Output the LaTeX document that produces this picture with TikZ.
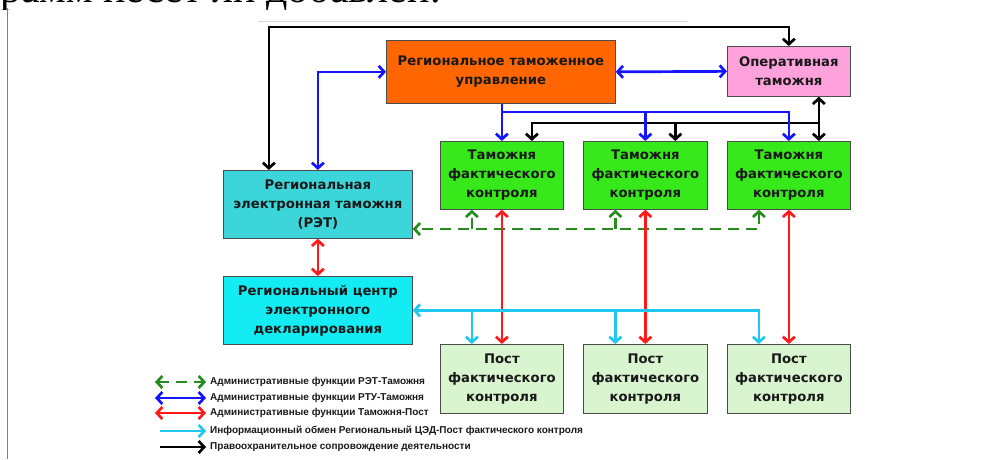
\documentclass[tikz,border=0pt]{standalone}
\usepackage{fontspec}
\setmainfont{Liberation Serif}
\newfontfamily\boxfont{DejaVu Sans}
\newfontfamily\legfont{Liberation Sans}
\usetikzlibrary{arrows.meta}

\definecolor{rtuorange}{RGB}{255,102,0}
\definecolor{operpink}{RGB}{255,162,220}
\definecolor{tamgreen}{RGB}{55,232,26}
\definecolor{postgreen}{RGB}{216,245,208}
\definecolor{retteal}{RGB}{60,214,218}
\definecolor{rcdcyan}{RGB}{18,236,242}
\definecolor{lnblue}{RGB}{20,20,255}
\definecolor{lnred}{RGB}{255,25,25}
\definecolor{lngreen}{RGB}{38,140,30}
\definecolor{lncyan}{RGB}{30,200,240}

\tikzset{
  box/.style={draw=black!70, line width=0.7pt, align=center, inner sep=0pt,
    anchor=north west, text=black!90,
    font=\boxfont\bfseries\fontsize{13.2}{19}\selectfont},
  conn/.style={line width=2.7pt, line join=miter,
    >={Straight Barb[length=5.5pt,width=12pt]}},
  blk/.style={conn, draw=black},
  blu/.style={conn, draw=lnblue},
  rd/.style={conn, draw=lnred},
  grn/.style={conn, draw=lngreen, dash pattern=on 11pt off 7pt},
  cyn/.style={conn, draw=lncyan},
  leg/.style={anchor=west, inner sep=0pt, text=black!90,
    font=\legfont\bfseries\fontsize{10}{11}\selectfont}
}

\begin{document}
\begin{tikzpicture}[x=1pt,y=-1pt]
\useasboundingbox (0,0) rectangle (987,459);

% fragment of the page text and frame lines
\begin{scope}
  \clip (0,0) rectangle (987,9);
  \node[anchor=base west, inner sep=0pt, font=\fontsize{42}{42}\selectfont] (pg) at (0,2.5) {рамм несет ли добавлен.};
\end{scope}
\draw[gray, line width=0.8pt] (7,8) -- (7,459);
\draw[black!15, line width=0.8pt] (258,21) -- (687,21);

% boxes
\node[box, fill=rtuorange, minimum width=229, minimum height=63] (rtu) at (386,40) {Региональное таможенное\\управление};
\node[box, fill=operpink, minimum width=123, minimum height=50] (oper) at (727,46) {Оперативная\\таможня};

\node[box, fill=tamgreen, minimum width=123, minimum height=68] (t1) at (440,141) {Таможня\\фактического\\контроля};
\node[box, fill=tamgreen, minimum width=124, minimum height=68] (t2) at (583,141) {Таможня\\фактического\\контроля};
\node[box, fill=tamgreen, minimum width=123, minimum height=68] (t3) at (727,141) {Таможня\\фактического\\контроля};

\node[box, fill=retteal, minimum width=189, minimum height=68] (ret) at (223,170) {Региональная\\электронная таможня\\(РЭТ)};
\node[box, fill=rcdcyan, minimum width=189, minimum height=68] (rcd) at (223,276) {Региональный центр\\электронного\\декларирования};

\node[box, fill=postgreen, minimum width=123, minimum height=69] (p1) at (440,344) {Пост\\фактического\\контроля};
\node[box, fill=postgreen, minimum width=124, minimum height=69] (p2) at (583,344) {Пост\\фактического\\контроля};
\node[box, fill=postgreen, minimum width=123, minimum height=69] (p3) at (727,344) {Пост\\фактического\\контроля};

% levels of the horizontal runs
\coordinate (ytop) at (0,27);
\coordinate (yblu) at (0,112);
\coordinate (yblk) at (0,123);
\coordinate (ygrn) at (0,229);
\coordinate (ycyn) at (0,310);

% law-enforcement support (black)
\draw[blk,<->] ([xshift=-49pt]ret.north) |- (oper.north |- ytop) -- (oper.north);
\draw[blk,<->] ([xshift=30pt]oper.south) -- ([xshift=30pt]t3.north);
\draw[blk,->] ([xshift=30pt]t3.north |- yblk) -| ([xshift=30pt]t1.north);
\draw[blk,->] ([xshift=30pt]t2.north |- yblk) -- ([xshift=30pt]t2.north);

% RTU links (blue)
\draw[blu,<->] (ret.north) |- (rtu.west);
\draw[blu,<->] (rtu.east) -- (oper.west);
\draw[blu,->] (t1.north |- rtu.south) -- (t1.north);
\draw[blu,->] (t1.north |- yblu) -| (t3.north);
\draw[blu,->] (t2.north |- yblu) -- (t2.north);

% RET links (green, dashed)
\draw[grn,<->] ([xshift=-30pt]t3.south) |- (ret.east |- ygrn);
\draw[grn,->] ([xshift=-30pt]t1.south |- ygrn) -- ([xshift=-30pt]t1.south);
\draw[grn,->] ([xshift=-30pt]t2.south |- ygrn) -- ([xshift=-30pt]t2.south);

% customs to post (red)
\draw[rd,<->] (ret.south) -- (rcd.north);
\draw[rd,<->] (t1.south) -- (p1.north);
\draw[rd,<->] (t2.south) -- (p2.north);
\draw[rd,<->] (t3.south) -- (p3.north);

% information exchange (cyan)
\draw[cyn,<->] (rcd.east) -| ([xshift=-30pt]p3.north);
\draw[cyn,->] ([xshift=-30pt]p1.north |- ycyn) -- ([xshift=-30pt]p1.north);
\draw[cyn,->] ([xshift=-30pt]p2.north |- ycyn) -- ([xshift=-30pt]p2.north);

% legend
\node[leg] (l1) at (210,382) {Административные функции РЭТ-Таможня};
\node[leg] (l2) at (210,398) {Административные функции РТУ-Таможня};
\node[leg] (l3) at (210,413) {Административные функции Таможня-Пост};
\node[leg] (l4) at (210,431) {Информационный обмен Региональный ЦЭД-Пост фактического контроля};
\node[leg] (l5) at (210,447) {Правоохранительное сопровождение деятельности};

\draw[grn,<->] ([xshift=-55pt]l1.west) -- ([xshift=-4pt]l1.west);
\draw[blu,<->] ([xshift=-55pt]l2.west) -- ([xshift=-4pt]l2.west);
\draw[rd,<->] ([xshift=-55pt]l3.west) -- ([xshift=-4pt]l3.west);
\draw[cyn,->] ([xshift=-50pt]l4.west) -- ([xshift=-4pt]l4.west);
\draw[blk,->] ([xshift=-50pt]l5.west) -- ([xshift=-4pt]l5.west);
\end{tikzpicture}
\end{document}
